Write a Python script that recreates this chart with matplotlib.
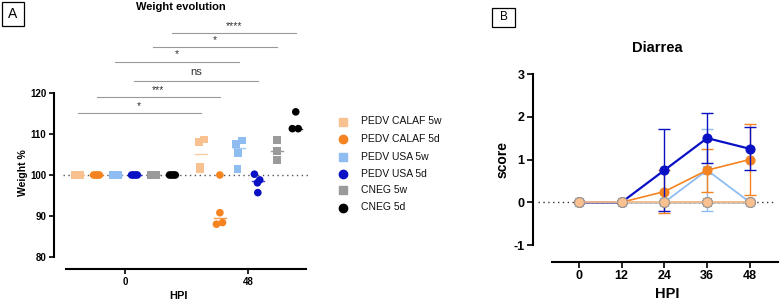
import matplotlib
matplotlib.use("Agg")
import matplotlib.pyplot as plt
from matplotlib.patches import Rectangle
import numpy as np

plt.rcParams['font.family'] = ['Liberation Sans', 'DejaVu Sans']
plt.rcParams['axes.unicode_minus'] = False

# ---------------- data ----------------
groups = ["PEDV CALAF 5w", "PEDV CALAF 5d", "PEDV USA 5w", "PEDV USA 5d", "CNEG 5w", "CNEG 5d"]
colors = ["#F9C18F", "#F5831F", "#8FBDF2", "#0A10C4", "#9A9A9A", "#000000"]
markers = ["s", "o", "s", "o", "s", "o"]
time_labels = ["0", "48"]

weight_0 = [[100, 100], [100, 100, 100, 100], [100, 100], [100, 100, 100, 100], [100, 100], [100, 100, 100, 100]]
weight_48 = [
    [108.0, 108.7, 102.1, 101.3],
    [100.0, 90.8, 88.0, 88.4],
    [107.6, 108.4, 105.4, 101.5],
    [100.2, 98.8, 98.1, 95.7],
    [108.6, 105.9, 103.7],
    [115.4, 111.3, 111.3],
]
jitter_0 = [[-0.12, 0.12], [-0.15, -0.05, 0.05, 0.15], [-0.12, 0.12], [-0.15, -0.05, 0.05, 0.15], [-0.12, 0.12], [-0.15, -0.05, 0.05, 0.15]]
jitter_48 = [
    [-0.1, 0.16, -0.05, -0.05],
    [0.0, 0.0, -0.18, 0.14],
    [-0.14, 0.17, -0.05, -0.07],
    [-0.18, 0.1, -0.02, 0.0],
    [0.0, 0.0, 0.0],
    [0.0, -0.18, 0.13],
]

# significance comparisons: (group index, label), from bottom to top
sig_groups = [0, 1, 3, 2, 4, 5]
sig_labels = ["*", "***", "ns", "*", "*", "****"]
sig_levels = [115.1, 119.0, 122.9, 127.6, 131.2, 134.6]

# Diarrea panel
hpi = [0, 12, 24, 36, 48]
d_mean = {
    "PEDV CALAF 5w": [0, 0, 0, 0, 0],
    "PEDV CALAF 5d": [0, 0, 0.25, 0.75, 1.0],
    "PEDV USA 5w": [0, 0, 0, 0.75, 0],
    "PEDV USA 5d": [0, 0, 0.75, 1.5, 1.25],
    "CNEG 5w": [0, 0, 0, 0, 0],
    "CNEG 5d": [0, 0, 0, 0, 0],
}
d_sd = {
    "PEDV CALAF 5w": [0, 0, 0, 0, 0],
    "PEDV CALAF 5d": [0, 0, 0.5, 0.5, 0.82],
    "PEDV USA 5w": [0, 0, 0, 0.96, 0],
    "PEDV USA 5d": [0, 0, 0.96, 0.58, 0.5],
    "CNEG 5w": [0, 0, 0, 0, 0],
    "CNEG 5d": [0, 0, 0, 0, 0],
}

W, H = 781, 303
fig = plt.figure(figsize=(W / 100, H / 100), dpi=100)

def fr(x0, y0, x1, y1):
    return [x0 / W, 1 - y1 / H, (x1 - x0) / W, (y1 - y0) / H]

# ---------------- Panel A ----------------
axA = fig.add_axes(fr(54, 93, 310, 257))
spacing = 6.5
for gi, g in enumerate(groups):
    off = gi - 2.5
    for ti, (vals, jit) in enumerate([(weight_0[gi], jitter_0[gi]), (weight_48[gi], jitter_48[gi])]):
        xc = ti * spacing + off
        xs = [xc + j for j in jit]
        axA.scatter(xs, vals, s=30, marker=markers[gi], color=colors[gi], edgecolor='none',
                    zorder=3, clip_on=False, label=g if ti == 0 else None)
        med = np.median(vals)
        axA.plot([xc - 0.32, xc + 0.32], [med, med], color=colors[gi], lw=1.0, zorder=4,
                 alpha=0.8 if gi != 4 else 1.0, clip_on=False)
axA.set_xlim(-3.74, 9.75)
axA.set_ylim(80, 120)
axA.axhline(100, xmin=(-3.26 + 3.74) / 13.49, xmax=1.0, color='#555555', lw=1.0,
            ls=(0, (1, 2.5)), zorder=1)
for lvl, gi, lab in zip(sig_levels, sig_groups, sig_labels):
    x0 = gi - 2.5
    x1 = spacing + gi - 2.5
    axA.plot([x0, x1], [lvl, lvl], color='#999999', lw=0.8, clip_on=False)
    dy = 0.6 if lab != "ns" else 1.0
    axA.text((x0 + x1) / 2, lvl + dy, lab, ha='center', va='bottom', fontsize=8 if lab == "ns" else 7.5,
             color='#333333', clip_on=False)
axA.set_yticks([80, 90, 100, 110, 120])
axA.set_xticks([0, spacing])
axA.set_xticklabels(time_labels)
for sp in ['top', 'right']:
    axA.spines[sp].set_visible(False)
axA.spines['left'].set_linewidth(1.5)
axA.spines['bottom'].set_linewidth(1.5)
axA.spines['bottom'].set_position(('outward', 8.6))
axA.spines['bottom'].set_bounds(-3.1, 9.53)
axA.tick_params(axis='both', labelsize=7, width=1.2, length=3.5, pad=2)
for lab in axA.get_xticklabels() + axA.get_yticklabels():
    lab.set_fontweight('bold')
fig.text(181 / W, 1 - 7.5 / H, "Weight evolution", ha='center', va='center', fontsize=8, fontweight='bold')
fig.text(178 / W, 1 - 296 / H, "HPI", ha='center', va='center', fontsize=8, fontweight='bold')
fig.text(23 / W, 1 - 173 / H, "Weight %", ha='center', va='center', fontsize=7.5, fontweight='bold', rotation=90)

# legend
leg_y = [121.5, 139, 157, 174, 190, 207.5]
for gi, g in enumerate(groups):
    fig.lines.append(plt.Line2D([343 / W], [1 - leg_y[gi] / H], marker=markers[gi], color=colors[gi],
                                markersize=6, ls='none', transform=fig.transFigure))
    fig.text(361 / W, 1 - leg_y[gi] / H, g, ha='left', va='center', fontsize=7.5, color='#111111')

# panel label boxes
fig.patches.append(Rectangle((2 / W, 1 - 26 / H), 22 / W, 24 / H, transform=fig.transFigure,
                             fill=False, ec='black', lw=0.9))
fig.text(13 / W, 1 - 14 / H, "A", ha='center', va='center', fontsize=10)
fig.patches.append(Rectangle((492 / W, 1 - 27 / H), 23 / W, 19 / H, transform=fig.transFigure,
                             fill=False, ec='black', lw=0.9))
fig.text(503.5 / W, 1 - 17.5 / H, "B", ha='center', va='center', fontsize=8.5)

# ---------------- Panel B ----------------
axB = fig.add_axes(fr(533, 74, 778, 245))
axB.set_ylim(-1, 3)
axB.set_xlim(-12.9, 55.9)
axB.axhline(0, xmin=(538 - 533) / (778 - 533), xmax=(775 - 533) / (778 - 533), color='#333333',
            lw=1.0, ls=(0, (1, 2.5)), zorder=1)

styleB = {
    "CNEG 5d": dict(color='#000000', marker='o', ms=6.8, lw=1.0, z=3, mec='#000000'),
    "CNEG 5w": dict(color='#A09A96', marker='s', ms=6.3, lw=1.2, z=4, mec='#A09A96'),
    "PEDV USA 5w": dict(color='#8FBDF2', marker='s', ms=6.3, lw=1.3, z=5, mec='#8FBDF2'),
    "PEDV CALAF 5d": dict(color='#F5831F', marker='o', ms=6.5, lw=1.2, z=7, mec='#F5831F'),
    "PEDV USA 5d": dict(color='#0A10C4', marker='o', ms=6.5, lw=1.6, z=8, mec='#0A10C4'),
    "PEDV CALAF 5w": dict(color='#F9C18F', marker='o', ms=7, lw=1.3, z=9, mec='#A89C90'),
}
for g in ["CNEG 5d", "CNEG 5w", "PEDV USA 5w", "PEDV CALAF 5d", "PEDV USA 5d", "PEDV CALAF 5w"]:
    st = styleB[g]
    m = np.array(d_mean[g])
    s = np.array(d_sd[g])
    x = np.array(hpi)
    sel = s > 0
    if sel.any():
        axB.errorbar(x[sel], m[sel], yerr=s[sel], fmt='none', ecolor=st['color'], elinewidth=1.0,
                     capsize=4, capthick=1.0, zorder=st['z'] - 0.5, clip_on=False)
    axB.plot(x, m, color=st['color'], lw=st['lw'], marker=st['marker'], ms=st['ms'],
             mfc=st['color'], mec=st['mec'], mew=0.8, zorder=st['z'], clip_on=False)

axB.set_yticks([-1, 0, 1, 2, 3])
axB.set_xticks(hpi)
for sp in ['top', 'right']:
    axB.spines[sp].set_visible(False)
axB.spines['left'].set_linewidth(1.5)
axB.spines['bottom'].set_linewidth(1.5)
axB.spines['bottom'].set_position(('outward', 12.2))
axB.spines['bottom'].set_bounds(-7.6, 55.9)
axB.tick_params(axis='both', labelsize=9, width=1.2, length=4, pad=2)
for lab in axB.get_xticklabels() + axB.get_yticklabels():
    lab.set_fontweight('bold')
fig.text(657 / W, 1 - 48 / H, "Diarrea", ha='center', va='center', fontsize=10.5, fontweight='bold')
fig.text(667 / W, 1 - 294.5 / H, "HPI", ha='center', va='center', fontsize=10.5, fontweight='bold')
fig.text(503 / W, 1 - 159 / H, "score", ha='center', va='center', fontsize=10, fontweight='bold', rotation=90)

fig.savefig("out.png", dpi=100)
